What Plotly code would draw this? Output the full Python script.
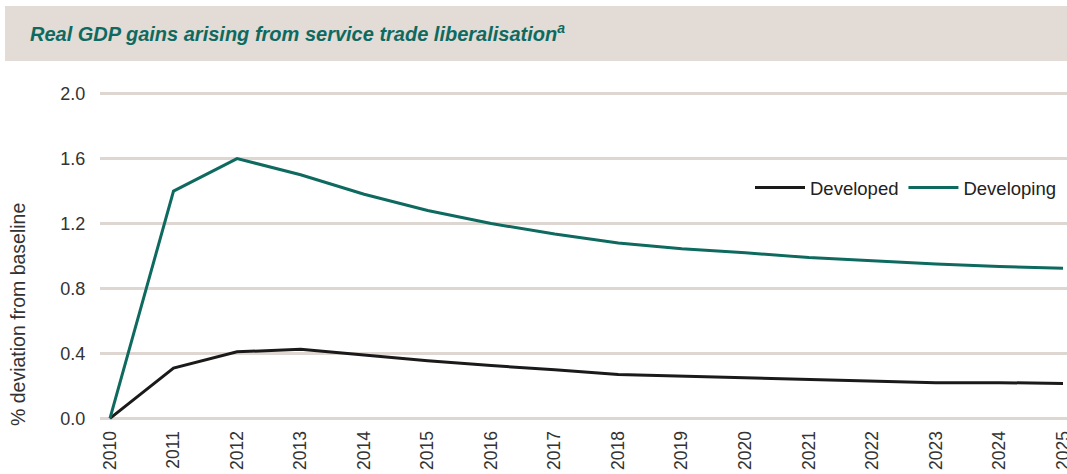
import plotly.graph_objects as go

years = list(range(2010, 2026))
developed = [0.0, 0.31, 0.41, 0.425, 0.39, 0.355, 0.325, 0.30, 0.27, 0.26, 0.25, 0.24, 0.23, 0.22, 0.22, 0.215]
developing = [0.0, 1.40, 1.60, 1.50, 1.38, 1.28, 1.20, 1.135, 1.08, 1.045, 1.02, 0.99, 0.97, 0.95, 0.935, 0.925]
y_ticks = [0.0, 0.4, 0.8, 1.2, 1.6, 2.0]
title = "Real GDP gains arising from service trade liberalisation"

TEAL = "#0e6a5f"
DARK = "#1b1a1a"
GRID = "#ddd6d1"
FONT = "Liberation Sans, Arial, sans-serif"

fig = go.Figure()
fig.add_trace(go.Scatter(x=years, y=developed, mode="lines", name="Developed",
                         line=dict(color=DARK, width=3)))
fig.add_trace(go.Scatter(x=years, y=developing, mode="lines", name="Developing",
                         line=dict(color=TEAL, width=3)))

W, H = 1067, 474
L, R, T, B = 100, 0, 92, 54
pw, ph = W - L - R, H - T - B

def px_x(px):
    return (px - L) / pw

def px_y(py):
    return (H - B - py) / ph

fig.update_layout(
    width=W, height=H,
    margin=dict(l=L, r=R, t=T, b=B, autoexpand=False),
    paper_bgcolor="white", plot_bgcolor="white",
    font=dict(family=FONT, size=18, color="#333333"),
    showlegend=True,
    legend=dict(orientation="h", x=px_x(1062), xanchor="right", y=px_y(188), yanchor="middle",
                font=dict(size=18.5, color="#222222"), bgcolor="rgba(0,0,0,0)",
                itemwidth=50, traceorder="normal"),
    xaxis=dict(range=[2009.843, 2025.063], tickvals=years, ticktext=[str(y) for y in years],
               tickangle=-90, showgrid=False, zeroline=False, showline=False,
               ticks="outside", ticklen=3, tickcolor="rgba(0,0,0,0)",
               ticklabeloverflow="allow", automargin=False,
               tickfont=dict(size=17.5, color="#333333")),
    yaxis=dict(range=[-0.01, 2.01], tickvals=y_ticks, tickformat=".1f",
               showgrid=True, gridcolor=GRID, gridwidth=2.5, zeroline=False, showline=False,
               ticks="outside", ticklen=10, tickcolor="rgba(0,0,0,0)", automargin=False,
               tickfont=dict(size=18, color="#333333")),
    shapes=[dict(type="rect", xref="paper", yref="paper",
                 x0=px_x(5), x1=px_x(1067), y0=px_y(61), y1=px_y(6),
                 fillcolor="#e2dbd6", line=dict(width=0), layer="below")],
    annotations=[
        dict(text="<b><i>" + title + "<sup>a</sup></i></b>", xref="paper", yref="paper",
             x=px_x(28), y=px_y(33), xanchor="left", yanchor="middle", showarrow=False,
             font=dict(size=20, color=TEAL, family=FONT)),
        dict(text="% deviation from baseline", xref="paper", yref="paper",
             x=px_x(18), y=px_y(315), xanchor="center", yanchor="middle", showarrow=False,
             textangle=-90, font=dict(size=19.5, color="#333333", family=FONT)),
    ],
)

fig.write_html("out.html")
